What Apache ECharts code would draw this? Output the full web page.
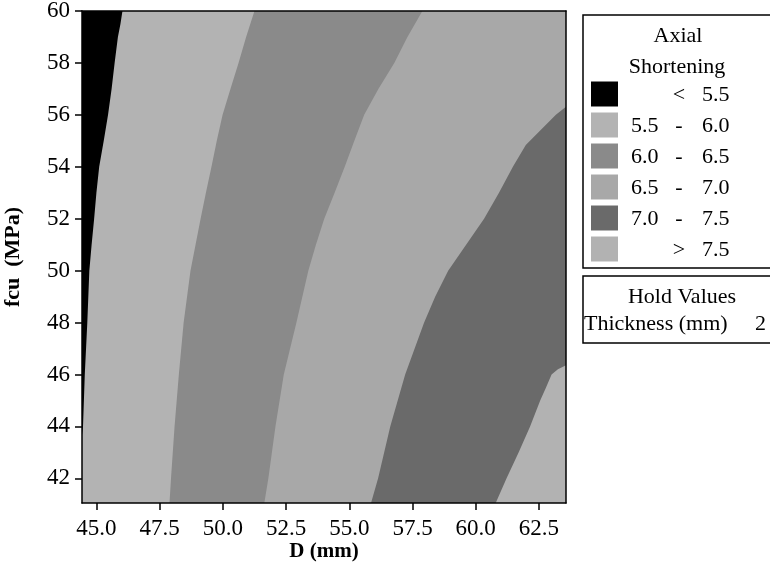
<!DOCTYPE html>
<html>
<head>
<meta charset="utf-8">
<script src="https://cdn.jsdelivr.net/npm/echarts@6/dist/echarts.min.js"></script>
<style>html,body{margin:0;padding:0;background:#fff}#c{width:770px;height:562px}</style>
</head>
<body>
<div id="c"></div>
<script>
// Axis ranges and ticks
const xMin = 44.43, xMax = 63.57, yMin = 41.05, yMax = 60;
const xTicks = [45.0, 47.5, 50.0, 52.5, 55.0, 57.5, 60.0, 62.5];
const yTicks = [42, 44, 46, 48, 50, 52, 54, 56, 58, 60];

// Contour boundaries (D in mm at given fcu in MPa)
const b55_fcu = [60, 59.5, 59, 58, 57, 56, 55, 54, 53, 52, 51, 50, 48, 46, 44, 43.67];
const b55_D   = [46.03, 45.95, 45.85, 45.72, 45.6, 45.46, 45.29, 45.11, 45.0, 44.91, 44.81, 44.72, 44.64, 44.54, 44.47, 44.43];
const b60_fcu = [60, 59, 58, 57, 56, 55, 54, 53, 52, 51, 50, 48, 46, 44, 42, 41.05];
const b60_D   = [51.25, 50.92, 50.62, 50.3, 49.99, 49.76, 49.55, 49.33, 49.12, 48.92, 48.72, 48.45, 48.26, 48.09, 47.95, 47.89];
const b65_fcu = [60, 59, 58, 57, 56, 55, 54, 53, 52, 51, 50, 48, 46, 44, 42, 41.05];
const b65_D   = [57.89, 57.3, 56.78, 56.15, 55.59, 55.2, 54.82, 54.42, 54.01, 53.68, 53.38, 52.91, 52.41, 52.08, 51.80, 51.64];
const b70_fcu = [56.31, 56, 55.42, 54.84, 54, 53, 52, 51, 50, 49, 48, 46, 44, 42, 41.05];
const b70_D   = [63.57, 63.17, 62.57, 61.98, 61.47, 60.92, 60.33, 59.62, 58.91, 58.4, 57.96, 57.21, 56.62, 56.14, 55.86];
const b75_fcu = [46.36, 46.2, 46, 45.5, 45, 44, 43, 42, 41.05];
const b75_D   = [63.57, 63.25, 63.0, 62.78, 62.55, 62.15, 61.7, 61.22, 60.79];

// Legend classes
const classLabels = [['', '<', '5.5'], ['5.5', '-', '6.0'], ['6.0', '-', '6.5'], ['6.5', '-', '7.0'], ['7.0', '-', '7.5'], ['', '>', '7.5']];
const classColors = ['#000000', '#b3b3b3', '#8a8a8a', '#a8a8a8', '#6a6a6a', '#b2b2b2'];

// Layers drawn from right (background) to left
const layers = [
  { D: null, F: null, color: classColors[5] },
  { D: b75_D, F: b75_fcu, color: classColors[4] },
  { D: b70_D, F: b70_fcu, color: classColors[3] },
  { D: b65_D, F: b65_fcu, color: classColors[2] },
  { D: b60_D, F: b60_fcu, color: classColors[1] },
  { D: b55_D, F: b55_fcu, color: classColors[0] }
];

const FONT = "'Liberation Serif', 'DejaVu Serif', serif";
const LF = '22px ' + FONT;

function layerPoints(l) {
  if (!l.D) return [[xMin, yMax], [xMax, yMax], [xMax, yMin], [xMin, yMin]];
  const pts = [[xMin, yMax]];
  if (l.F[0] < yMax) pts.push([xMax, yMax]);
  for (let k = 0; k < l.D.length; k++) pts.push([l.D[k], l.F[k]]);
  pts.push([xMin, l.F[l.F.length - 1]]);
  return pts;
}

const chart = echarts.init(document.getElementById('c'), null, { renderer: 'canvas' });

const legendEls = [];
const boxL = 583, boxT = 15;
legendEls.push({ type: 'rect', shape: { x: boxL, y: boxT, width: 220, height: 253 }, style: { fill: '#fff', stroke: '#000', lineWidth: 1.5 } });
legendEls.push({ type: 'text', style: { x: 678, y: 36, text: 'Axial', font: LF, fill: '#000', align: 'center', verticalAlign: 'middle' } });
legendEls.push({ type: 'text', style: { x: 677, y: 67, text: 'Shortening', font: LF, fill: '#000', align: 'center', verticalAlign: 'middle' } });
for (let i = 0; i < classLabels.length; i++) {
  const cy = 94 + i * 31;
  legendEls.push({ type: 'rect', shape: { x: 591, y: cy - 12.5, width: 27, height: 25 }, style: { fill: classColors[i] } });
  const lab = classLabels[i];
  if (lab[0]) legendEls.push({ type: 'text', style: { x: 631, y: cy + 1, text: lab[0], font: LF, fill: '#000', align: 'left', verticalAlign: 'middle' } });
  legendEls.push({ type: 'text', style: { x: 679, y: cy + 1, text: lab[1], font: LF, fill: '#000', align: 'center', verticalAlign: 'middle' } });
  legendEls.push({ type: 'text', style: { x: 702, y: cy + 1, text: lab[2], font: LF, fill: '#000', align: 'left', verticalAlign: 'middle' } });
}
legendEls.push({ type: 'rect', shape: { x: boxL, y: 276, width: 220, height: 67 }, style: { fill: '#fff', stroke: '#000', lineWidth: 1.5 } });
legendEls.push({ type: 'text', style: { x: 682, y: 297, text: 'Hold Values', font: LF, fill: '#000', align: 'center', verticalAlign: 'middle' } });
legendEls.push({ type: 'text', style: { x: 584, y: 324, text: 'Thickness (mm)', font: LF, fill: '#000', align: 'left', verticalAlign: 'middle' } });
legendEls.push({ type: 'text', style: { x: 755, y: 324, text: '2', font: LF, fill: '#000', align: 'left', verticalAlign: 'middle' } });

const option = {
  animation: false,
  backgroundColor: '#fff',
  grid: { left: 82, top: 11, right: 204, bottom: 59, containLabel: false, outerBoundsMode: 'none' },
  xAxis: [{
    type: 'value', min: xMin, max: xMax, z: 10,
    name: 'D (mm)', nameLocation: 'middle', nameGap: 38, nameMoveOverlap: false,
    nameTextStyle: { fontFamily: FONT, fontSize: 21, fontWeight: 'bold', color: '#000' },
    axisLine: { show: true, onZero: false, lineStyle: { color: '#000', width: 1.5 } },
    axisTick: { show: true, length: 7, lineStyle: { color: '#000', width: 1.5 }, customValues: xTicks },
    axisLabel: { fontFamily: FONT, fontSize: 23, color: '#000', margin: 14, customValues: xTicks, formatter: v => v.toFixed(1) },
    splitLine: { show: false }
  }, {
    type: 'value', position: 'top', min: xMin, max: xMax, z: 10,
    axisLine: { show: true, onZero: false, lineStyle: { color: '#000', width: 1.5 } },
    axisTick: { show: false }, axisLabel: { show: false }, splitLine: { show: false }
  }],
  yAxis: [{
    type: 'value', min: yMin, max: yMax, z: 10,
    name: 'fcu  (MPa)', nameLocation: 'middle', nameGap: 58, nameRotate: 90, nameMoveOverlap: false,
    nameTextStyle: { fontFamily: FONT, fontSize: 22, fontWeight: 'bold', color: '#000' },
    axisLine: { show: true, onZero: false, lineStyle: { color: '#000', width: 1.5 } },
    axisTick: { show: true, length: 7, lineStyle: { color: '#000', width: 1.5 }, customValues: yTicks },
    axisLabel: { fontFamily: FONT, fontSize: 23, color: '#000', margin: 12, customValues: yTicks, formatter: v => String(v) },
    splitLine: { show: false }
  }, {
    type: 'value', position: 'right', min: yMin, max: yMax, z: 10,
    axisLine: { show: true, onZero: false, lineStyle: { color: '#000', width: 1.5 } },
    axisTick: { show: false }, axisLabel: { show: false }, splitLine: { show: false }
  }],
  series: [{
    type: 'custom',
    coordinateSystem: 'cartesian2d',
    xAxisIndex: 0, yAxisIndex: 0,
    z: 1,
    silent: true,
    encode: { x: 0, y: 1 },
    data: layers.map((l, i) => [xMin, yMin, i]),
    renderItem: function (params, api) {
      const l = layers[api.value(2)];
      const pts = layerPoints(l).map(p => api.coord(p));
      return { type: 'polygon', shape: { points: pts }, style: { fill: l.color, stroke: null } };
    }
  }],
  graphic: legendEls
};
chart.setOption(option);
</script>
</body>
</html>
